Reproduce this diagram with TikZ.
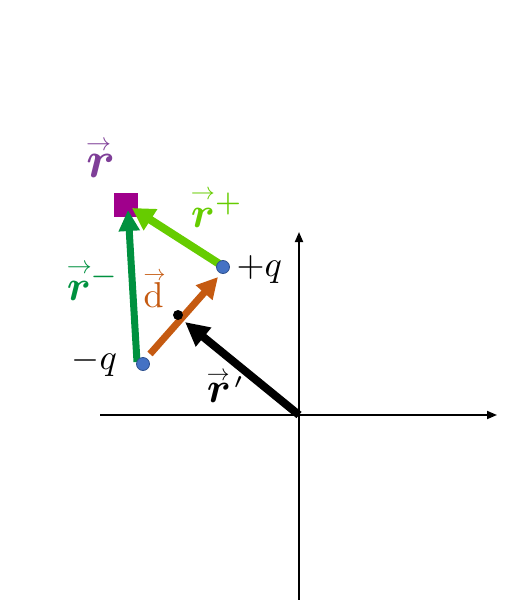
\documentclass[tikz,border=0pt]{standalone}
\usepackage{amsmath,bm}
\usetikzlibrary{arrows.meta}
\definecolor{cpurple}{HTML}{7F3F98}
\definecolor{csquare}{HTML}{A0008C}
\definecolor{clgreen}{HTML}{66CC00}
\definecolor{cdgreen}{HTML}{00913F}
\definecolor{corange}{HTML}{C55A11}
\definecolor{cblue}{HTML}{4472C4}
\definecolor{cblueb}{HTML}{2F528F}
% vector arrow over a letter: {scale}{raise}{letter}
\newcommand{\vecarr}[3]{\rlap{\raisebox{#2}{\scalebox{#1}{$\rightarrow$}}}{#3}}
\begin{document}
\begin{tikzpicture}[x=1pt,y=-1pt,
  axisline/.style={line width=1.8pt,-{Triangle[length=10pt,width=8pt]}},
  charge/.style={circle,fill=cblue,draw=cblueb,line width=0.8pt,minimum size=13pt,inner sep=0pt},
  dotnode/.style={circle,fill=black,minimum size=10pt,inner sep=0pt},
  sqr/.style={rectangle,fill=csquare,minimum size=24pt,inner sep=0pt},
  lab/.style={inner sep=0pt,scale=3.6},
  vlab/.style={inner sep=0pt,scale=4.3},
  bigvlab/.style={inner sep=0pt,scale=5.2},
]
\useasboundingbox (0,0) rectangle (506,600);
% axes
\coordinate (O) at (299,415);
\coordinate (xl) at (100,415);
\coordinate (xr) at (497,415);
\coordinate (yb) at (299,600);
\coordinate (yt) at (299,232);
\draw[axisline] (xl) -- (xr);
\draw[axisline] (yb) -- (yt);
% observation point
\node[sqr] (sq) at (126,205) {};
% arrow end points
\coordinate (rmS) at (137,362);
\coordinate (rmT) at (128,210);
\coordinate (rpS) at (221,265);
\coordinate (rpT) at (132,208);
\coordinate (dS) at (150,354);
\coordinate (dT) at (218,277);
\coordinate (rprT) at (185,322);
% vectors
\draw[line width=7pt,cdgreen,-{Triangle[length=21pt,width=20pt]}] (rmS) -- (rmT);
\draw[line width=8pt,clgreen,-{Triangle[length=22pt,width=24pt]}] (rpS) -- (rpT);
\draw[line width=7pt,corange,-{Triangle[length=21pt,width=21pt]}] (dS) -- (dT);
\draw[line width=8pt,black,-{Triangle[length=24pt,width=23pt]}] (O) -- (rprT);
% charges and midpoint
\node[charge] (pq) at (223,267) {};
\node[charge] (mq) at (143,364) {};
\node[dotnode] (mid) at (178,315) {};
% labels
\node[bigvlab,anchor=base west,text=cpurple] (lr) at (85,177) {$\vecarr{0.48}{5.15pt}{\bm r}$};
\node[vlab,anchor=base west,text=clgreen] (lrp) at (190,227) {$\vecarr{0.56}{6.5pt}{\bm r}^{+}$};
\node[vlab,anchor=base west,text=cdgreen] (lrm) at (66,300) {$\vecarr{0.58}{6.25pt}{\bm r}^{-}$};
\node[lab,anchor=base west,text=corange] (ld) at (143,307) {$\vecarr{0.61}{7.4pt}{\mathrm{d}}$};
\node[vlab,anchor=base west] (lrpr) at (206,402) {$\vecarr{0.53}{5pt}{\bm r}\mkern1mu\raisebox{3.2pt}{$\scriptscriptstyle\prime$}$};
\node[lab,anchor=base west] (lpq) at (236,276) {$+q$};
\node[lab,anchor=base west] (lmq) at (71,369) {$-q$};
\end{tikzpicture}
\end{document}
